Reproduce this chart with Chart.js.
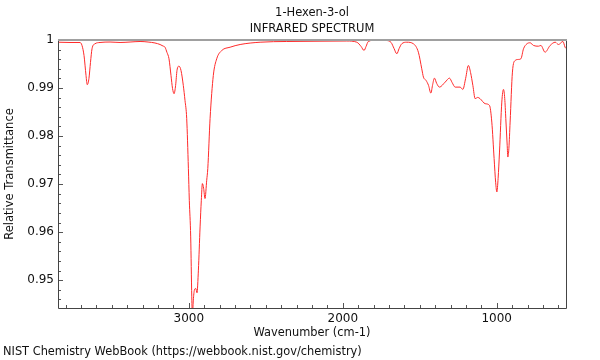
<!DOCTYPE html>
<html>
<head>
<meta charset="utf-8">
<script src="https://cdn.jsdelivr.net/npm/chart.js@4"></script>
<style>
  body { margin: 0; background: #fff; }
  #wrap { width: 600px; height: 360px; }
</style>
</head>
<body>
<div id="wrap"><canvas id="irChart"></canvas></div>
<script>
// wavenumber (cm-1) and relative transmittance
const wavenumbers = [
  3850, 3772, 3707, 3694, 3681, 3668, 3660, 3649, 3639, 3629, 3610, 3577, 3512, 3447, 3382, 3317,
  3265, 3220, 3187, 3168, 3155, 3142, 3129, 3116, 3106, 3096, 3086, 3077, 3064, 3051, 3036, 3025,
  3014, 3003, 2997, 2988, 2981, 2977, 2971, 2964, 2955, 2947, 2938, 2927, 2919, 2912, 2904, 2895,
  2884, 2877, 2862, 2841, 2819, 2786, 2732, 2667, 2537, 2364, 2148, 1974, 1909, 1881, 1862, 1849,
  1834, 1779, 1714, 1686, 1667, 1649, 1634, 1617, 1584, 1541, 1509, 1487, 1476, 1459, 1443, 1428,
  1416, 1405, 1390, 1372, 1335, 1307, 1290, 1270, 1238, 1220, 1202, 1184, 1170, 1155, 1140, 1124,
  1108, 1075, 1047, 1032, 1017, 1007, 999, 991, 982, 967, 956, 948, 941, 932, 928, 921,
  913, 898, 880, 859, 843, 826, 804, 783, 761, 729, 713, 686, 653, 620, 599, 570,
  556, 549
];
const transmittance = [
  0.99954, 0.99948, 0.99948, 0.99886, 0.99678, 0.99262, 0.99069, 0.99200, 0.99532, 0.99817, 0.99921, 0.99948, 0.99958, 0.99948, 0.99958, 0.99969,
  0.99958, 0.99938, 0.99906, 0.99875, 0.99850, 0.99740, 0.99609, 0.99262, 0.98992, 0.98881, 0.99054, 0.99366, 0.99455, 0.99366, 0.99054, 0.98742,
  0.98368, 0.97328, 0.96663, 0.95900, 0.94653, 0.94250, 0.94584, 0.94792, 0.94827, 0.94736, 0.95208, 0.96108, 0.96663, 0.97010, 0.96913, 0.96699,
  0.97079, 0.97322, 0.98368, 0.99262, 0.99609, 0.99782, 0.99850, 0.99906, 0.99954, 0.99969, 0.99975, 0.99979, 0.99954, 0.99865, 0.99782, 0.99865,
  0.99969, 1.00004, 0.99990, 0.99948, 0.99823, 0.99713, 0.99823, 0.99921, 0.99954, 0.99921, 0.99746, 0.99401, 0.99227, 0.99158, 0.99054, 0.98894,
  0.99075, 0.99206, 0.99096, 0.99019, 0.99123, 0.99206, 0.99116, 0.99019, 0.99019, 0.98971, 0.99200, 0.99470, 0.99324, 0.99054, 0.98778, 0.98805,
  0.98778, 0.98674, 0.98638, 0.98291, 0.97530, 0.97037, 0.96836, 0.97121, 0.97667, 0.98707, 0.98971, 0.98784, 0.98362, 0.97807, 0.97563, 0.97744,
  0.98291, 0.99331, 0.99574, 0.99595, 0.99609, 0.99817, 0.99921, 0.99942, 0.99886, 0.99871, 0.99886, 0.99746, 0.99886, 0.99954, 0.99906, 0.99969,
  0.99850, 0.99823
];

const xTickValues = [3000, 2000, 1000];
const yTickValues = [0.95, 0.96, 0.97, 0.98, 0.99, 1];

const FONT = "'DejaVu Sans', sans-serif";

// inward ticks, frame, titles and footer
const frameAndText = {
  id: "frameAndText",
  afterDatasetsDraw(chart) {
    const ctx = chart.ctx;
    const a = chart.chartArea;
    const xs = chart.scales.x;
    const ys = chart.scales.y;

    ctx.save();
    ctx.strokeStyle = "#555";
    ctx.lineWidth = 1;
    ctx.beginPath();
    for (let w = 600; w <= 3800; w += 100) {
      const x = Math.round(xs.getPixelForValue(w)) + 0.5;
      const len = w % 1000 === 0 ? 5 : 3;
      ctx.moveTo(x, a.bottom);
      ctx.lineTo(x, a.bottom - len);
    }
    for (let i = 473; i <= 500; i++) {
      const y = Math.round(ys.getPixelForValue(i / 500)) + 0.5;
      const len = i % 5 === 0 ? 5 : 3;
      ctx.moveTo(a.left, y);
      ctx.lineTo(a.left + len, y);
    }
    ctx.stroke();

    // left, bottom, right axis lines
    ctx.strokeStyle = "#444";
    ctx.beginPath();
    ctx.moveTo(a.left + 0.5, a.top);
    ctx.lineTo(a.left + 0.5, a.bottom + 0.5);
    ctx.lineTo(a.right + 0.5, a.bottom + 0.5);
    ctx.lineTo(a.right + 0.5, a.top);
    ctx.stroke();

    // top border, grey and thicker
    ctx.strokeStyle = "#a0a0a0";
    ctx.lineWidth = 2;
    ctx.beginPath();
    ctx.moveTo(a.left, a.top);
    ctx.lineTo(a.right + 1, a.top);
    ctx.stroke();

    ctx.fillStyle = "#111";
    ctx.font = "11.5px " + FONT;
    ctx.textAlign = "center";
    ctx.textBaseline = "middle";
    const cx = (a.left + a.right) / 2;
    ctx.fillText("1-Hexen-3-ol", cx, 13);
    ctx.fillText("INFRARED SPECTRUM", cx, 29);

    ctx.textAlign = "left";
    ctx.font = "11.4px " + FONT;
    ctx.fillText("NIST Chemistry WebBook (https://webbook.nist.gov/chemistry)", 3, 352);
    ctx.restore();
  }
};

const ctx = document.getElementById("irChart").getContext("2d");

new Chart(ctx, {
  type: "line",
  data: {
    datasets: [{
      data: wavenumbers.map((w, i) => ({ x: w, y: transmittance[i] })),
      borderColor: "#ff2a2a",
      borderWidth: 1,
      pointRadius: 0,
      fill: false,
      cubicInterpolationMode: "monotone"
    }]
  },
  options: {
    responsive: true,
    maintainAspectRatio: false,
    animation: false,
    layout: { padding: { left: 0, right: 34, top: 40, bottom: 20 } },
    plugins: {
      legend: { display: false },
      tooltip: { enabled: false },
      title: { display: false }
    },
    scales: {
      x: {
        type: "linear",
        reverse: true,
        min: 550,
        max: 3850,
        afterBuildTicks: s => { s.ticks = xTickValues.map(v => ({ value: v })); },
        afterFit: s => { s.height = 32; },
        grid: { display: false, drawTicks: false },
        border: { display: false },
        ticks: {
          color: "#111",
          padding: 4,
          maxRotation: 0,
          font: { family: FONT, size: 12 },
          callback: v => String(v)
        },
        title: {
          display: true,
          text: "Wavenumber (cm-1)",
          color: "#111",
          font: { family: FONT, size: 11.4 },
          padding: { top: 0, bottom: 0 }
        }
      },
      y: {
        min: 0.9442,
        max: 1,
        afterBuildTicks: s => { s.ticks = yTickValues.map(v => ({ value: v })); },
        afterFit: s => { s.width = 58; },
        grid: { display: false, drawTicks: false },
        border: { display: false },
        ticks: {
          color: "#111",
          padding: 4,
          font: { family: FONT, size: 12 },
          callback: v => String(+v.toFixed(2))
        },
        title: {
          display: true,
          text: "Relative Transmittance",
          color: "#111",
          font: { family: FONT, size: 11.5 },
          padding: { top: 3.4 }
        }
      }
    }
  },
  plugins: [frameAndText]
});
</script>
</body>
</html>
